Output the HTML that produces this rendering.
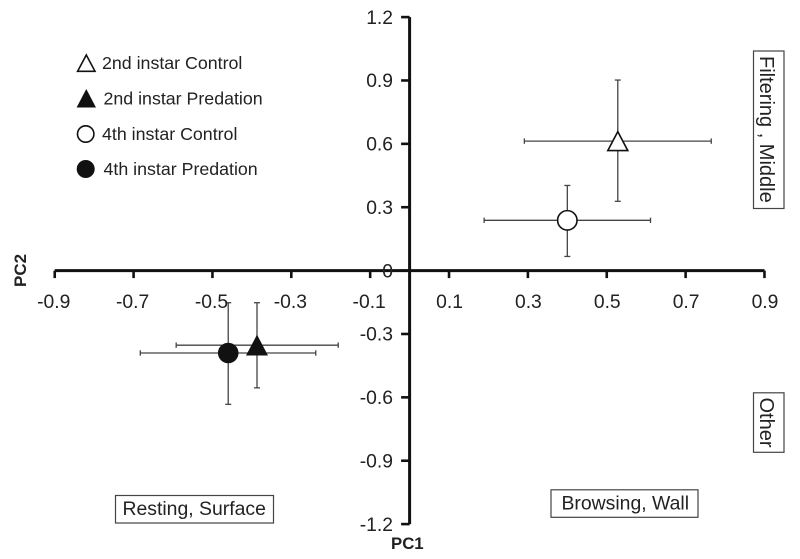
<!DOCTYPE html>
<html>
<head>
<meta charset="utf-8">
<title>PC1 vs PC2 scatter chart</title>
<style>
html,body{margin:0;padding:0;background:#fff;}
svg{display:block;font-family:"Liberation Sans",Arial,sans-serif;}
</style>
</head>
<body>
<svg id="chart" width="800" height="559" viewBox="0 0 800 559" xmlns="http://www.w3.org/2000/svg">
  <rect x="0" y="0" width="800" height="559" fill="#fff"/>
  <g id="error-layer"></g>
  <g id="axis-layer"></g>
  <g id="marker-layer"></g>

  <text x="391" y="549" font-size="16.8" font-weight="bold" fill="#222">PC1</text>
  <text transform="translate(26,287) rotate(-90)" font-size="17" font-weight="bold" fill="#222">PC2</text>

  <g fill="#222" font-size="17.8">
    <polygon points="86.3,55 95,71.3 77.6,71.3" fill="#fff" stroke="#111" stroke-width="1.6"/>
    <text x="102" y="69">2nd instar Control</text>
    <polygon points="86.3,89 96,107.5 76.6,107.5" fill="#111"/>
    <text x="103.5" y="104.5">2nd instar Predation</text>
    <circle cx="85.7" cy="134" r="8.2" fill="#fff" stroke="#111" stroke-width="1.6"/>
    <text x="102" y="140">4th instar Control</text>
    <circle cx="85.7" cy="169" r="9" fill="#111"/>
    <text x="103.5" y="175">4th instar Predation</text>
  </g>

  <g fill="#222" font-size="19.4">
    <rect x="115.5" y="495.5" width="158" height="27.5" fill="#fff" stroke="#444" stroke-width="1.2"/>
    <text x="122.5" y="515">Resting, Surface</text>
    <rect x="551" y="489.8" width="147" height="27.5" fill="#fff" stroke="#444" stroke-width="1.2"/>
    <text x="561.5" y="509.5">Browsing, Wall</text>
    <rect x="753.5" y="51" width="30.5" height="157.5" fill="#fff" stroke="#444" stroke-width="1.2"/>
    <text transform="translate(760,56) rotate(90)" font-size="20">Filtering , Middle</text>
    <rect x="753.5" y="392.8" width="30.5" height="59.5" fill="#fff" stroke="#444" stroke-width="1.2"/>
    <text transform="translate(760,397.5) rotate(90)" font-size="20">Other</text>
  </g>
</svg>
<script>
var seriesNames = ['2nd-instar-control', '4th-instar-control', '2nd-instar-predation', '4th-instar-predation'];
var pc1Values = [0.528, 0.40, -0.387, -0.46];
var pc2Values = [0.613, 0.238, -0.353, -0.39];
var pc1Low = [0.291, 0.189, -0.592, -0.683];
var pc1High = [0.765, 0.611, -0.181, -0.238];
var pc2Low = [0.328, 0.067, -0.555, -0.633];
var pc2High = [0.902, 0.403, -0.152, -0.152];
var markerShapes = ['triangle', 'circle', 'triangle', 'circle'];
var markerFilled = [false, false, true, true];
var xTicks = [-0.9, -0.7, -0.5, -0.3, -0.1, 0.1, 0.3, 0.5, 0.7, 0.9];
var xTickLabels = ['-0.9', '-0.7', '-0.5', '-0.3', '-0.1', '0.1', '0.3', '0.5', '0.7', '0.9'];
var yTicks = [1.2, 0.9, 0.6, 0.3, 0, -0.3, -0.6, -0.9, -1.2];
var yTickLabels = ['1.2', '0.9', '0.6', '0.3', '0', '-0.3', '-0.6', '-0.9', '-1.2'];

function xScale(v) { return 409.6 + v * 394.3; }
function yScale(v) { return 270.6 - v * 211.25; }

var NS = 'http://www.w3.org/2000/svg';
function make(tag, parent, attrs) {
  var el = document.createElementNS(NS, tag);
  for (var k in attrs) { el.setAttribute(k, attrs[k]); }
  parent.appendChild(el);
  return el;
}

var axisLayer = document.getElementById('axis-layer');
var errorLayer = document.getElementById('error-layer');
var markerLayer = document.getElementById('marker-layer');

function line(parent, x1, y1, x2, y2, stroke, width) {
  return make('line', parent, { x1: x1, y1: y1, x2: x2, y2: y2, stroke: stroke, 'stroke-width': width });
}

var xAxisLine = line(axisLayer, xScale(-0.9), yScale(0), xScale(0.9), yScale(0), '#111', 3);


var yAxisLine = line(axisLayer, xScale(0), yScale(1.2), xScale(0), yScale(-1.2), '#111', 3);



xTicks.forEach(function (t, i) {
  var x = xScale(t);
  var tick = line(axisLayer, x, yScale(0), x, yScale(0) + 7.5, '#111', 2.6);
  
  
  var label = make('text', axisLayer, { x: t < 0 ? x - 1 : x + 0.5, y: 308, 'text-anchor': 'middle', 'font-size': 19.3, fill: '#222' });
  label.textContent = xTickLabels[i];
  
  
});

yTicks.forEach(function (t, i) {
  var y = yScale(t);
  var tick = line(axisLayer, xScale(0) - 8.5, y, xScale(0), y, '#111', 2.6);
  
  
  var label = make('text', axisLayer, { x: 393, y: y + 6.7, 'text-anchor': 'end', 'font-size': 19.3, fill: '#222' });
  label.textContent = yTickLabels[i];
  
  
});

seriesNames.forEach(function (name, i) {
  var cx = xScale(pc1Values[i]);
  var cy = yScale(pc2Values[i]);
  var xl = xScale(pc1Low[i]), xh = xScale(pc1High[i]);
  var yl = yScale(pc2Low[i]), yh = yScale(pc2High[i]);
  var color = '#444';
  var w = 1.3;
  var segments = [
    [xl, cy, xh, cy], [xl, cy - 2.7, xl, cy + 2.7], [xh, cy - 2.7, xh, cy + 2.7],
    [cx, yh, cx, yl], [cx - 3, yh, cx + 3, yh], [cx - 3, yl, cx + 3, yl]
  ];
  segments.forEach(function (s) {
    var seg = line(errorLayer, s[0], s[1], s[2], s[3], color, w);
    
    
  });

  var filled = markerFilled[i];
  var marker;
  if (markerShapes[i] === 'triangle') {
    var pts = filled
      ? [[cx, cy - 10.5], [cx + 11, cy + 10.3], [cx - 11, cy + 10.3]]
      : [[cx, cy - 9.5], [cx + 10, cy + 9.5], [cx - 10, cy + 9.5]];
    marker = make('polygon', markerLayer, {
      points: pts.map(function (p) { return p[0] + ',' + p[1]; }).join(' '),
      fill: filled ? '#111' : '#fff',
      stroke: filled ? 'none' : '#111',
      'stroke-width': 1.6
    });
  } else {
    marker = make('circle', markerLayer, {
      cx: cx, cy: cy, r: filled ? 10.3 : 9.7,
      fill: filled ? '#111' : '#fff',
      stroke: filled ? 'none' : '#111',
      'stroke-width': 1.6
    });
  }
  
  
});
</script>
</body>
</html>
